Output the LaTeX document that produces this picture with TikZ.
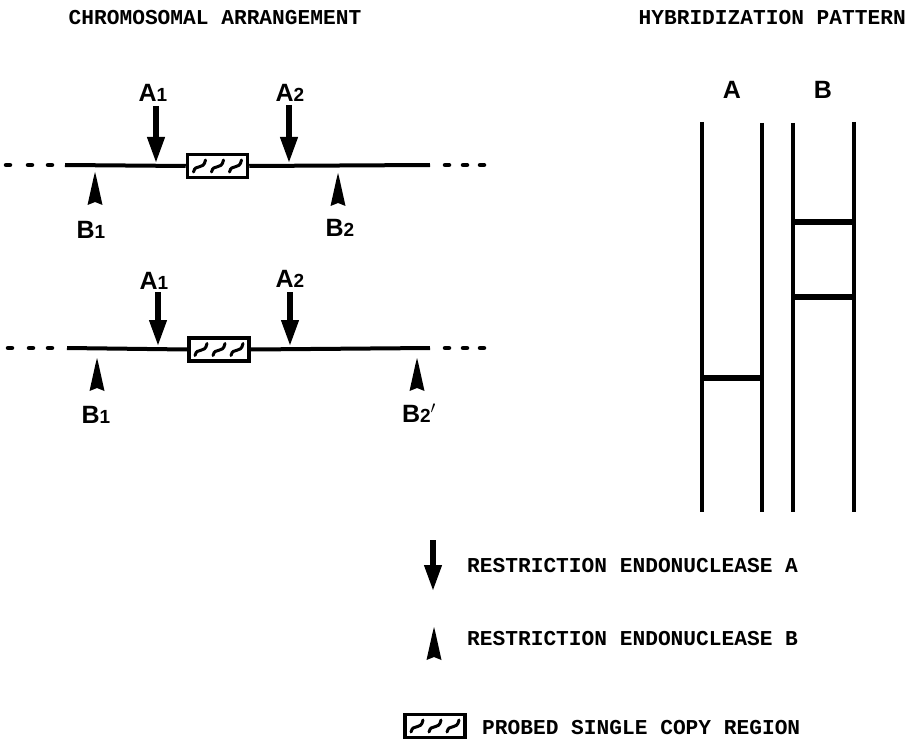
\documentclass[tikz,border=0pt]{standalone}
\usepackage{fontspec}
\usetikzlibrary{arrows.meta}
\newfontfamily\twfont{Liberation Mono}
\newfontfamily\hvfont{Liberation Sans}
\newcommand{\tw}{\twfont\bfseries\fontsize{21.2}{24}\selectfont}
\newcommand{\lab}[2]{{\hvfont\bfseries\fontsize{25}{25}\selectfont #1\fontsize{19}{19}\selectfont #2}}
\begin{document}
\begin{tikzpicture}[x=1pt,y=-1pt,
  chrom/.style={line width=4pt},
  dotmark/.style={line width=4.5pt,line cap=round},
  cutA/.style={line width=6.5pt,-{Triangle[length=27pt,width=16pt]}},
  probebox/.style={draw,line width=3.5pt,minimum width=60pt,minimum height=23pt,inner sep=0pt},
  lane/.style={line width=4pt},
  band/.style={line width=6pt},
  ttext/.style={font=\tw,inner sep=0pt},
  stext/.style={inner sep=0pt},
  barb/.pic={\fill (0,0) -- (1.5,6) -- (7.5,33) -- (0,30) -- (-7.5,33) -- (-1.5,6) -- cycle;},
  wig/.pic={\foreach \dx in {-18,0,18}{\draw[line width=3pt,line cap=round] (\dx-6,6) .. controls (\dx-4,-3) and (\dx+4,5) .. (\dx+6,-6);}}
]
\useasboundingbox (0,0) rectangle (911,741);

% titles
\node[ttext] (t1) at (215,18) {CHROMOSOMAL ARRANGEMENT};
\node[ttext,anchor=east] (t2) at (906,18) {HYBRIDIZATION PATTERN};

% ---------- row 1 ----------
\coordinate (r1L) at (65,165);
\coordinate (r1R) at (430,165);
\node[probebox] (box1) at (217.5,166) {};
\pic at (box1.center) {wig};
\draw[chrom] (r1L) -- (box1.west);
\draw[chrom] (box1.east) -- (r1R);
\foreach \x in {8,30,50,447,465,482} \draw[dotmark] (\x-2,165) -- (\x+2,165);

\coordinate (a1t) at (156,106); \coordinate (a1b) at (156,164);
\coordinate (a2t) at (289,105); \coordinate (a2b) at (289,164);
\draw[cutA] (a1t) -- (a1b);
\draw[cutA] (a2t) -- (a2b);
\node[stext] (lA1) at (153,93) {\lab{A}{1}};
\node[stext] (lA2) at (290,93) {\lab{A}{2}};
\pic at (95,172) {barb};
\pic at (338,173) {barb};
\node[stext] (lB1) at (91,230) {\lab{B}{1}};
\node[stext] (lB2) at (340,228) {\lab{B}{2}};

% ---------- row 2 ----------
\coordinate (r2L) at (67,348);
\coordinate (r2R) at (430,348);
\node[probebox] (box2) at (219,349.5) {};
\pic at (box2.center) {wig};
\draw[chrom] (r2L) -- (box2.west);
\draw[chrom] (box2.east) -- (r2R);
\foreach \x in {10,31,50,447,465,482} \draw[dotmark] (\x-2,348) -- (\x+2,348);

\coordinate (c1t) at (158,292); \coordinate (c1b) at (158,347);
\coordinate (c2t) at (290,292); \coordinate (c2b) at (290,347);
\draw[cutA] (c1t) -- (c1b);
\draw[cutA] (c2t) -- (c2b);
\node[stext] (mA1) at (154,281) {\lab{A}{1}};
\node[stext] (mA2) at (290,279) {\lab{A}{2}};
\pic at (97,358) {barb};
\pic at (417,358) {barb};
\node[stext] (mB1) at (96,415) {\lab{B}{1}};
\node[stext] (mB2) at (419,413) {\lab{B}{2}\fontsize{25}{25}\selectfont$'$};

% ---------- hybridization pattern ----------
\node[stext] (hA) at (732,90) {\hvfont\bfseries\fontsize{25}{25}\selectfont A};
\node[stext] (hB) at (823,90) {\hvfont\bfseries\fontsize{25}{25}\selectfont B};
\coordinate (v1t) at (702,122); \coordinate (v1b) at (702,512);
\coordinate (v2t) at (762,123); \coordinate (v2b) at (762,512);
\coordinate (v3t) at (793,123); \coordinate (v3b) at (793,512);
\coordinate (v4t) at (854,122); \coordinate (v4b) at (854,512);
\draw[lane] (v1t) -- (v1b);
\draw[lane] (v2t) -- (v2b);
\draw[lane] (v3t) -- (v3b);
\draw[lane] (v4t) -- (v4b);
\draw[band] (702,378) -- (762,378);
\draw[band] (793,222) -- (854,222);
\draw[band] (793,297) -- (854,297);

% ---------- legend ----------
\coordinate (lgt) at (433,540); \coordinate (lgb) at (433,592);
\draw[cutA] (lgt) -- (lgb);
\node[ttext,anchor=west] (legA) at (467,566) {RESTRICTION ENDONUCLEASE A};
\pic at (434,627) {barb};
\node[ttext,anchor=west] (legB) at (467,639) {RESTRICTION ENDONUCLEASE B};
\node[probebox] (box3) at (435,726) {};
\pic at (box3.center) {wig};
\node[ttext,anchor=west] (legC) at (482,728) {PROBED SINGLE COPY REGION};
\end{tikzpicture}
\end{document}
